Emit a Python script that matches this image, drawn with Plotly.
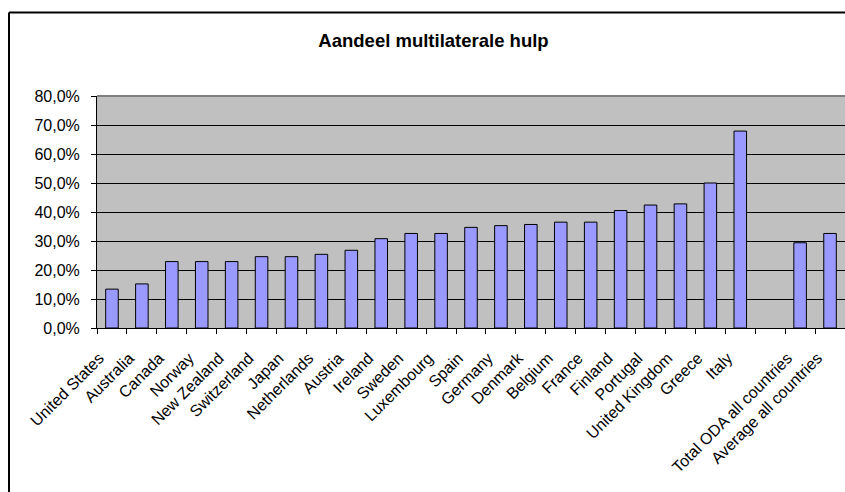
import plotly.graph_objects as go

categories = ["United States", "Australia", "Canada", "Norway", "New Zealand",
              "Switzerland", "Japan", "Netherlands", "Austria", "Ireland", "Sweden",
              "Luxembourg", "Spain", "Germany", "Denmark", "Belgium", "France",
              "Finland", "Portugal", "United Kingdom", "Greece", "Italy", " ",
              "Total ODA all countries", "Average all countries"]
values_pct = [13.4, 15.2, 22.9, 22.9, 22.9, 24.6, 24.6, 25.4, 26.8, 30.8, 32.6,
              32.6, 34.7, 35.3, 35.7, 36.5, 36.5, 40.5, 42.4, 42.8, 50.0, 67.9, None,
              29.4, 32.6]
title_text = "Aandeel multilaterale hulp"
y_ticks = [0, 0.1, 0.2, 0.3, 0.4, 0.5, 0.6, 0.7, 0.8]

values = [None if v is None else v / 100 for v in values_pct]
# trailing non-breaking spaces nudge the rotated labels along their diagonal
tick_text = [c + "\u00a0" * 4 for c in categories]

FONT = "Liberation Sans, Arial, sans-serif"

W, H = 845, 492
L, T = 97, 96
BOTTOM = 328.3
PW = W - L            # plot width (748)
PH = BOTTOM - T       # plot height

fig = go.Figure(go.Bar(
    x=categories, y=values,
    marker=dict(color="#9999FF", line=dict(color="#000000", width=1)),
    hoverinfo="x+y",
))

fig.update_layout(
    width=W, height=H,
    margin=dict(l=L, r=0, t=T, b=H - BOTTOM, pad=0),
    paper_bgcolor="white",
    plot_bgcolor="#C0C0C0",
    separators=",.",
    bargap=0.58,
    showlegend=False,
    font=dict(family=FONT, size=16, color="black"),
    title=dict(text="<b>" + title_text + "</b>", x=433.5 / W, xanchor="center",
               y=1 - 41 / H, yanchor="middle", yref="container",
               font=dict(family=FONT, size=18.5, color="black")),
)

fig.update_xaxes(
    type="category", categoryorder="array", categoryarray=categories,
    tickvals=categories, ticktext=tick_text,
    tickangle=-45, ticks="outside", ticklen=5, tickcolor="black",
    tickson="boundaries", showline=True, linecolor="black", linewidth=1,
    showgrid=False, ticklabelstandoff=1,
    tickfont=dict(family=FONT, size=16, color="black"),
)
fig.update_yaxes(
    range=[0, 0.8], tickvals=y_ticks, tickformat=".1%",
    ticks="outside", ticklen=5, tickcolor="black", ticklabelstandoff=8,
    showline=True, linecolor="black", linewidth=1,
    showgrid=True, gridcolor="black", gridwidth=1, zeroline=False,
    tickfont=dict(family=FONT, size=16, color="black"),
)

# plot-area top border (grey)
fig.add_shape(type="line", xref="paper", yref="paper", x0=0, x1=1, y0=1, y1=1,
              line=dict(color="#808080", width=2), layer="above")
# outer chart frame: only top and left edges are visible (cropped on right/bottom)
frame_x = (9 - L) / PW
frame_y = (BOTTOM - 12.5) / PH
fig.add_shape(type="line", xref="paper", yref="paper",
              x0=frame_x, x1=1.05, y0=frame_y, y1=frame_y,
              line=dict(color="black", width=2), layer="above")
fig.add_shape(type="line", xref="paper", yref="paper",
              x0=frame_x, x1=frame_x, y0=-1.0, y1=frame_y,
              line=dict(color="black", width=2), layer="above")

fig.write_html(
    "out.html",
    config={"displayModeBar": False},
    post_script="document.body.style.margin='0';document.body.style.overflow='hidden';",
)
